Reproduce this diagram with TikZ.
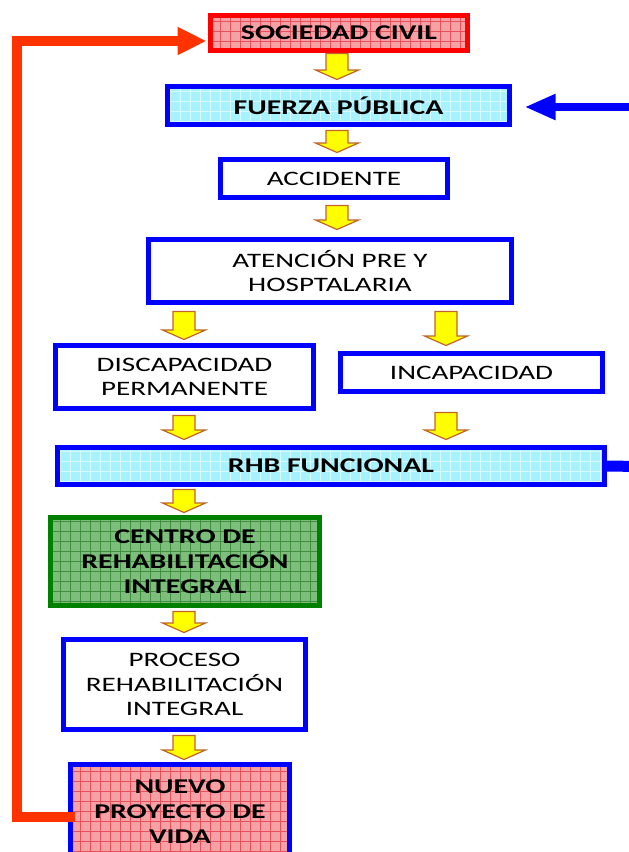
\documentclass[tikz,border=0pt]{standalone}
\usepackage{fontspec}
\setmainfont{Carlito}[FakeStretch=1.42]
\usetikzlibrary{arrows.meta,patterns.meta,calc}

\definecolor{boxblue}{HTML}{0000FF}
\definecolor{boxred}{HTML}{FF0000}
\definecolor{boxgreen}{HTML}{008000}
\definecolor{pinkbase}{HTML}{F4A2A6}
\definecolor{pinkgrid}{HTML}{E8505C}
\definecolor{cyanbase}{HTML}{A6F2FF}
\definecolor{cyangrid}{HTML}{D8FBFF}
\definecolor{greenbase}{HTML}{7DBE7D}
\definecolor{greengrid}{HTML}{3F8F3F}
\definecolor{arrowfill}{HTML}{FFFF00}
\definecolor{arrowedge}{HTML}{C0642A}
\definecolor{loopred}{HTML}{FF3300}

\tikzset{
  flowbox/.style={rectangle, inner sep=0pt, line width=5pt, draw=boxblue,
    align=center, font=\fontsize{20.5}{24.5}\selectfont},
  plainbox/.style={flowbox, fill=white},
  gridbox/.style 2 args={flowbox, preaction={fill=#1},
    pattern={Hatch[distance=10pt,line width=1pt]}, pattern color=#2,
    font=\fontsize{21}{25}\selectfont\bfseries},
  redbox/.style={gridbox={pinkbase}{pinkgrid}, draw=boxred},
  cyanbox/.style={gridbox={cyanbase}{cyangrid}},
  greenbox/.style={gridbox={greenbase}{greengrid}, draw=boxgreen},
  pinkbox/.style={gridbox={pinkbase}{pinkgrid}},
  yarrow/.style={fill=arrowfill, draw=arrowedge, line width=1.2pt, line join=miter},
  looparrow/.style={draw=loopred, line width=10pt, -{Triangle[length=29pt,width=26pt]}},
  inarrow/.style={draw=boxblue, line width=8pt, -{Triangle[length=31pt,width=24pt]}},
  sidestub/.style={draw=boxblue, line width=11pt},
}

% yellow block arrow pointing down:
% #1 x position, #2 upper node, #3 lower node, #4 gap below #2, #5 gap above #3
\newcommand\blockdown[5]{%
  \draw[yarrow] let \p1=(#2.south), \p2=(#3.north) in
    (#1pt-11pt,\y1-#4pt) -- (#1pt+11pt,\y1-#4pt) -- (#1pt+11pt,\y2+#5pt+9.5pt)
    -- (#1pt+21.5pt,\y2+#5pt+9.5pt) -- (#1pt,\y2+#5pt) -- (#1pt-21.5pt,\y2+#5pt+9.5pt)
    -- (#1pt-11pt,\y2+#5pt+9.5pt) -- cycle;}

\begin{document}
\begin{tikzpicture}[x=1pt,y=-1pt]
\useasboundingbox (0,0) rectangle (629,852);

\node[redbox, minimum width=257pt, minimum height=35pt] (soc) at (339,33) {SOCIEDAD CIVIL};
\node[cyanbox, minimum width=342pt, minimum height=38pt] (fuerza) at (338.5,105.5) {FUERZA PÚBLICA};
\node[plainbox, minimum width=227pt, minimum height=38pt] (acc) at (334,178.5) {ACCIDENTE};
\node[plainbox, minimum width=363pt, minimum height=63pt] (aten) at (330,271) {ATENCIÓN PRE Y\\HOSPTALARIA};
\node[plainbox, minimum width=258pt, minimum height=63pt] (disc) at (184.5,377) {DISCAPACIDAD\\PERMANENTE};
\node[plainbox, minimum width=262pt, minimum height=38pt] (incap) at (471.5,372.5) {INCAPACIDAD};
\node[cyanbox, minimum width=547pt, minimum height=37pt] (rhb) at (331,466) {RHB FUNCIONAL};
\node[greenbox, minimum width=269pt, minimum height=88pt] (centro) at (185,561.5) {CENTRO DE\\REHABILITACIÓN\\INTEGRAL};
\node[plainbox, minimum width=242pt, minimum height=90pt] (proc) at (184.5,684.5) {PROCESO\\REHABILITACIÓN\\INTEGRAL};
\node[pinkbox, minimum width=219pt, minimum height=95pt] (nuevo) at (180,812) {NUEVO\\PROYECTO DE\\VIDA};

% flow arrows
\blockdown{337}{soc}{fuerza}{2.5}{4.5}
\blockdown{337}{fuerza}{acc}{3.5}{4.5}
\blockdown{337}{acc}{aten}{5.5}{7.5}
\blockdown{184}{aten}{disc}{6.5}{3.5}
\blockdown{446}{aten}{incap}{6.5}{5.5}
\blockdown{184}{disc}{rhb}{4.5}{5.5}
\blockdown{446}{incap}{rhb}{18.5}{5.5}
\blockdown{184}{rhb}{centro}{2.5}{2.5}
\blockdown{184}{centro}{proc}{3.5}{4.5}
\blockdown{184}{proc}{nuevo}{3.5}{2.5}

% feedback loop back to the start
\coordinate (loopx) at (17,400);
\draw[looparrow] ([xshift=6.5pt,yshift=-5pt]nuevo.west) -| (loopx) |- ([xshift=-3.5pt,yshift=-8pt]soc.west);

% side inputs
\coordinate (fuerzain) at (640,107);
\draw[inarrow] (fuerzain) -- ([xshift=12.5pt,yshift=-1.5pt]fuerza.east);
\coordinate (rhbout) at (640,466.5);
\draw[sidestub] (rhb.east) -- (rhbout);
\end{tikzpicture}
\end{document}
